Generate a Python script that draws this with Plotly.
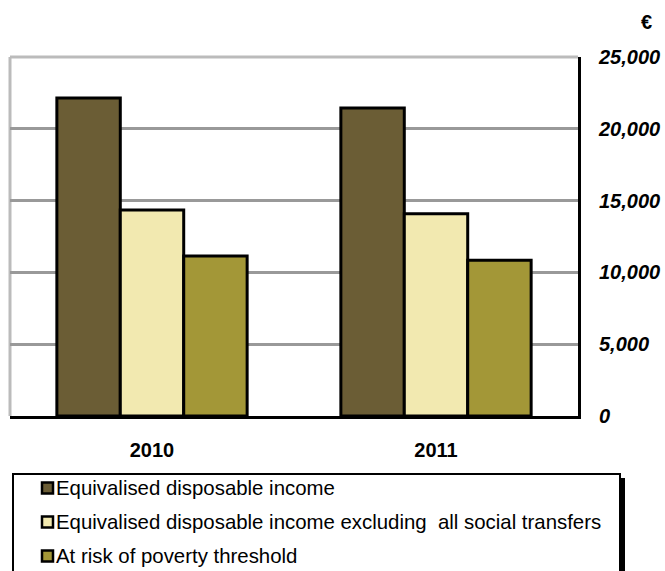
import plotly.graph_objects as go

# Data
years = ["2010", "2011"]
series_names = [
    "Equivalised disposable income",
    "Equivalised disposable income excluding  all social transfers",
    "At risk of poverty threshold",
]
disposable_income = [22150, 21450]
income_excl_transfers = [14350, 14080]
poverty_threshold = [11150, 10850]
y_ticks = [0, 5000, 10000, 15000, 20000, 25000]
y_tick_labels = ["0", "5,000", "10,000", "15,000", "20,000", "25,000"]

colors = ["#6B5D35", "#F2E9B0", "#A39737"]
values = [disposable_income, income_excl_transfers, poverty_threshold]

W, H = 665, 571
ML, MR, MT, MB = 10, 87, 57, 155
PW, PH = W - ML - MR, H - MT - MB
FONT = "Arial, 'Liberation Sans', sans-serif"


def px_x(x):
    return (x - ML) / PW


def px_y(y):
    return (H - MB - y) / PH


fig = go.Figure()
for name, vals, col in zip(series_names, values, colors):
    fig.add_trace(go.Bar(
        x=years, y=vals, name=name,
        marker=dict(color=col, line=dict(color="black", width=3)),
        showlegend=False,
    ))

shapes = []
# gray frame edges (left and top)
shapes.append(dict(type="line", xref="paper", yref="paper", x0=0, x1=0, y0=0, y1=1,
                   line=dict(color="#BBBBBB", width=3), layer="below"))
shapes.append(dict(type="line", xref="paper", yref="paper", x0=0, x1=1, y0=1, y1=1,
                   line=dict(color="#BBBBBB", width=3), layer="below"))
# legend box with shadow
lx0, lx1, ly0, ly1 = 13, 620, 474, 575
shapes.append(dict(type="rect", xref="paper", yref="paper",
                   x0=px_x(lx1 - 1), x1=px_x(lx1 + 5), y0=px_y(ly0 + 4), y1=px_y(ly1),
                   fillcolor="black", line=dict(width=0)))
shapes.append(dict(type="rect", xref="paper", yref="paper",
                   x0=px_x(lx0), x1=px_x(lx1), y0=px_y(ly0), y1=px_y(ly1),
                   fillcolor="white", line=dict(color="black", width=2)))

annotations = []
item_y = [488, 522, 556]
for name, col, yy in zip(series_names, colors, item_y):
    shapes.append(dict(type="rect", xref="paper", yref="paper",
                       x0=px_x(42), x1=px_x(53), y0=px_y(yy - 5.5), y1=px_y(yy + 5.5),
                       fillcolor=col, line=dict(color="black", width=2.5)))
    annotations.append(dict(text=name, xref="paper", yref="paper",
                            x=px_x(54), y=px_y(yy), xanchor="left", yanchor="middle",
                            showarrow=False, font=dict(family=FONT, size=20.4, color="black")))

# currency unit above the value axis
annotations.append(dict(text="<b>€</b>", xref="paper", yref="paper",
                        x=px_x(647), y=px_y(22), xanchor="center", yanchor="middle",
                        showarrow=False, font=dict(family=FONT, size=20, color="black")))

fig.update_layout(
    width=W, height=H,
    margin=dict(l=ML, r=MR, t=MT, b=MB, autoexpand=False),
    paper_bgcolor="white", plot_bgcolor="white",
    barmode="group", bargap=0.33, bargroupgap=0,
    showlegend=False,
    shapes=shapes, annotations=annotations,
    font=dict(family=FONT, color="black"),
)
fig.update_yaxes(
    side="right", range=[0, 25000], tickvals=y_ticks, ticktext=y_tick_labels,
    showgrid=True, gridcolor="#999999", gridwidth=3,
    showline=True, linecolor="black", linewidth=3,
    ticks="", ticklabelstandoff=14, zeroline=False, automargin=False,
    tickfont=dict(family=FONT, size=20, weight="bold", style="italic", color="black"),
)
fig.update_xaxes(
    showline=True, linecolor="black", linewidth=3, ticks="",
    ticklabelstandoff=14, automargin=False,
    tickfont=dict(family=FONT, size=20, weight="bold", color="black"),
)

fig.write_html("out.html")
